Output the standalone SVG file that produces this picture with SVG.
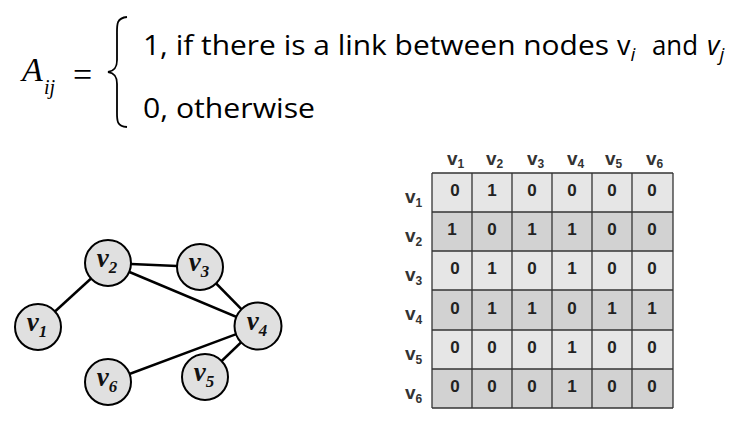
<svg xmlns="http://www.w3.org/2000/svg" width="742" height="432" viewBox="0 0 742 432">
<style>
.f{font-family:"Liberation Serif","Times New Roman",serif;font-style:italic}
.t{font-family:"Open Sans","Noto Sans",sans-serif;font-size:27px;fill:#000}
.node circle{fill:#e0e0e0;stroke:#000;stroke-width:2}
.node text{font-family:"Liberation Serif","Times New Roman",serif;font-style:italic;font-weight:bold;font-size:27px;fill:#111;text-anchor:middle}
.node tspan.s{font-size:17px}
.edges line{stroke:#000;stroke-width:2.5}
.lt{fill:#e6e6e6}
.dk{fill:#d2d2d2}
.grid line{stroke:#333;stroke-width:1.3}
.c{font-family:"Liberation Sans",Arial,sans-serif;font-weight:bold;font-size:17px;fill:#222;text-anchor:middle}
.h{font-family:"Liberation Sans",Arial,sans-serif;font-weight:bold;font-size:19px;fill:#333}
.h tspan.s{font-size:12px}
</style>
<rect width="742" height="432" fill="#fff"/>
<g id="formula">
<text class="f" x="22" y="81" font-size="34">A</text>
<text class="f" x="44" y="94" font-size="20">ij</text>
<text x="73" y="86" font-family="Liberation Serif,serif" font-size="34">=</text>
<path d="M127,17 C116,18 117,25 117,35 L117,60 C117,68 114,71 108,72 C114,73 117,76 117,84 L117,110 C117,120 116,126 127,127" fill="none" stroke="#000" stroke-width="1.8"/>
<text class="t" x="143" y="55"><tspan textLength="466" lengthAdjust="spacingAndGlyphs">1, if there is a link between nodes</tspan><tspan x="617">v</tspan><tspan font-style="italic" font-size="19" dy="6">i</tspan><tspan dy="-6" x="652" textLength="46" lengthAdjust="spacingAndGlyphs">and</tspan><tspan x="707" font-style="italic">v</tspan><tspan font-style="italic" font-size="19" dy="6">j</tspan></text>
<text class="t" x="143" y="118" textLength="172" lengthAdjust="spacingAndGlyphs">0, otherwise</text>
</g>
<g class="edges" id="connectors">
<line x1="38" y1="327" x2="108" y2="263"/>
<line x1="108" y1="263" x2="200" y2="267"/>
<line x1="108" y1="263" x2="258" y2="326"/>
<line x1="200" y1="267" x2="258" y2="326"/>
<line x1="258" y1="326" x2="108" y2="382"/>
<line x1="258" y1="326" x2="205" y2="377"/>
</g>
<g class="node" id="v1"><circle cx="38" cy="327" r="23"/><text x="37" y="331">v<tspan class="s" dy="6">1</tspan></text></g>
<g class="node" id="v2"><circle cx="108" cy="263" r="23"/><text x="107" y="267">v<tspan class="s" dy="6">2</tspan></text></g>
<g class="node" id="v3"><circle cx="200" cy="267" r="23"/><text x="199" y="271">v<tspan class="s" dy="6">3</tspan></text></g>
<g class="node" id="v4"><circle cx="258" cy="326" r="23.5"/><text x="257" y="330">v<tspan class="s" dy="6">4</tspan></text></g>
<g class="node" id="v5"><circle cx="205" cy="377" r="23"/><text x="204" y="381">v<tspan class="s" dy="6">5</tspan></text></g>
<g class="node" id="v6"><circle cx="108" cy="382" r="23"/><text x="107" y="386">v<tspan class="s" dy="6">6</tspan></text></g>
<g id="matrix">
<rect class="lt" x="432" y="173" width="241" height="39"/>
<rect class="dk" x="432" y="212" width="241" height="39"/>
<rect class="lt" x="432" y="251" width="241" height="39"/>
<rect class="dk" x="432" y="290" width="241" height="40"/>
<rect class="lt" x="432" y="330" width="241" height="39"/>
<rect class="dk" x="432" y="369" width="241" height="39"/>
<g class="grid">
<line x1="432" y1="173" x2="673" y2="173"/>
<line x1="432" y1="212" x2="673" y2="212"/>
<line x1="432" y1="251" x2="673" y2="251"/>
<line x1="432" y1="290" x2="673" y2="290"/>
<line x1="432" y1="330" x2="673" y2="330"/>
<line x1="432" y1="369" x2="673" y2="369"/>
<line x1="432" y1="408" x2="673" y2="408"/>
<line x1="432" y1="173" x2="432" y2="408"/>
<line x1="472" y1="173" x2="472" y2="408"/>
<line x1="512" y1="173" x2="512" y2="408"/>
<line x1="552" y1="173" x2="552" y2="408"/>
<line x1="592" y1="173" x2="592" y2="408"/>
<line x1="632" y1="173" x2="632" y2="408"/>
<line x1="673" y1="173" x2="673" y2="408"/>
</g>
<g class="h">
<text x="447" y="165">v<tspan class="s" dy="3">1</tspan></text>
<text x="486" y="165">v<tspan class="s" dy="3">2</tspan></text>
<text x="527" y="165">v<tspan class="s" dy="3">3</tspan></text>
<text x="567" y="165">v<tspan class="s" dy="3">4</tspan></text>
<text x="605" y="165">v<tspan class="s" dy="3">5</tspan></text>
<text x="646" y="165">v<tspan class="s" dy="3">6</tspan></text>
<text x="405" y="203">v<tspan class="s" dy="4">1</tspan></text>
<text x="405" y="242">v<tspan class="s" dy="4">2</tspan></text>
<text x="405" y="281">v<tspan class="s" dy="4">3</tspan></text>
<text x="405" y="320">v<tspan class="s" dy="4">4</tspan></text>
<text x="405" y="360">v<tspan class="s" dy="4">5</tspan></text>
<text x="405" y="399">v<tspan class="s" dy="4">6</tspan></text>
</g>
<g class="c">
<text x="455" y="196">0</text><text x="492" y="196">1</text><text x="532" y="196">0</text><text x="572" y="196">0</text><text x="612" y="196">0</text><text x="652" y="196">0</text>
<text x="452" y="235">1</text><text x="492" y="235">0</text><text x="532" y="235">1</text><text x="572" y="235">1</text><text x="612" y="235">0</text><text x="652" y="235">0</text>
<text x="455" y="274">0</text><text x="492" y="274">1</text><text x="532" y="274">0</text><text x="572" y="274">1</text><text x="612" y="274">0</text><text x="652" y="274">0</text>
<text x="455" y="314">0</text><text x="492" y="314">1</text><text x="532" y="314">1</text><text x="572" y="314">0</text><text x="612" y="314">1</text><text x="652" y="314">1</text>
<text x="455" y="353">0</text><text x="492" y="353">0</text><text x="532" y="353">0</text><text x="572" y="353">1</text><text x="612" y="353">0</text><text x="652" y="353">0</text>
<text x="455" y="392">0</text><text x="492" y="392">0</text><text x="532" y="392">0</text><text x="572" y="392">1</text><text x="612" y="392">0</text><text x="652" y="392">0</text>
</g>
</g>
</svg>
